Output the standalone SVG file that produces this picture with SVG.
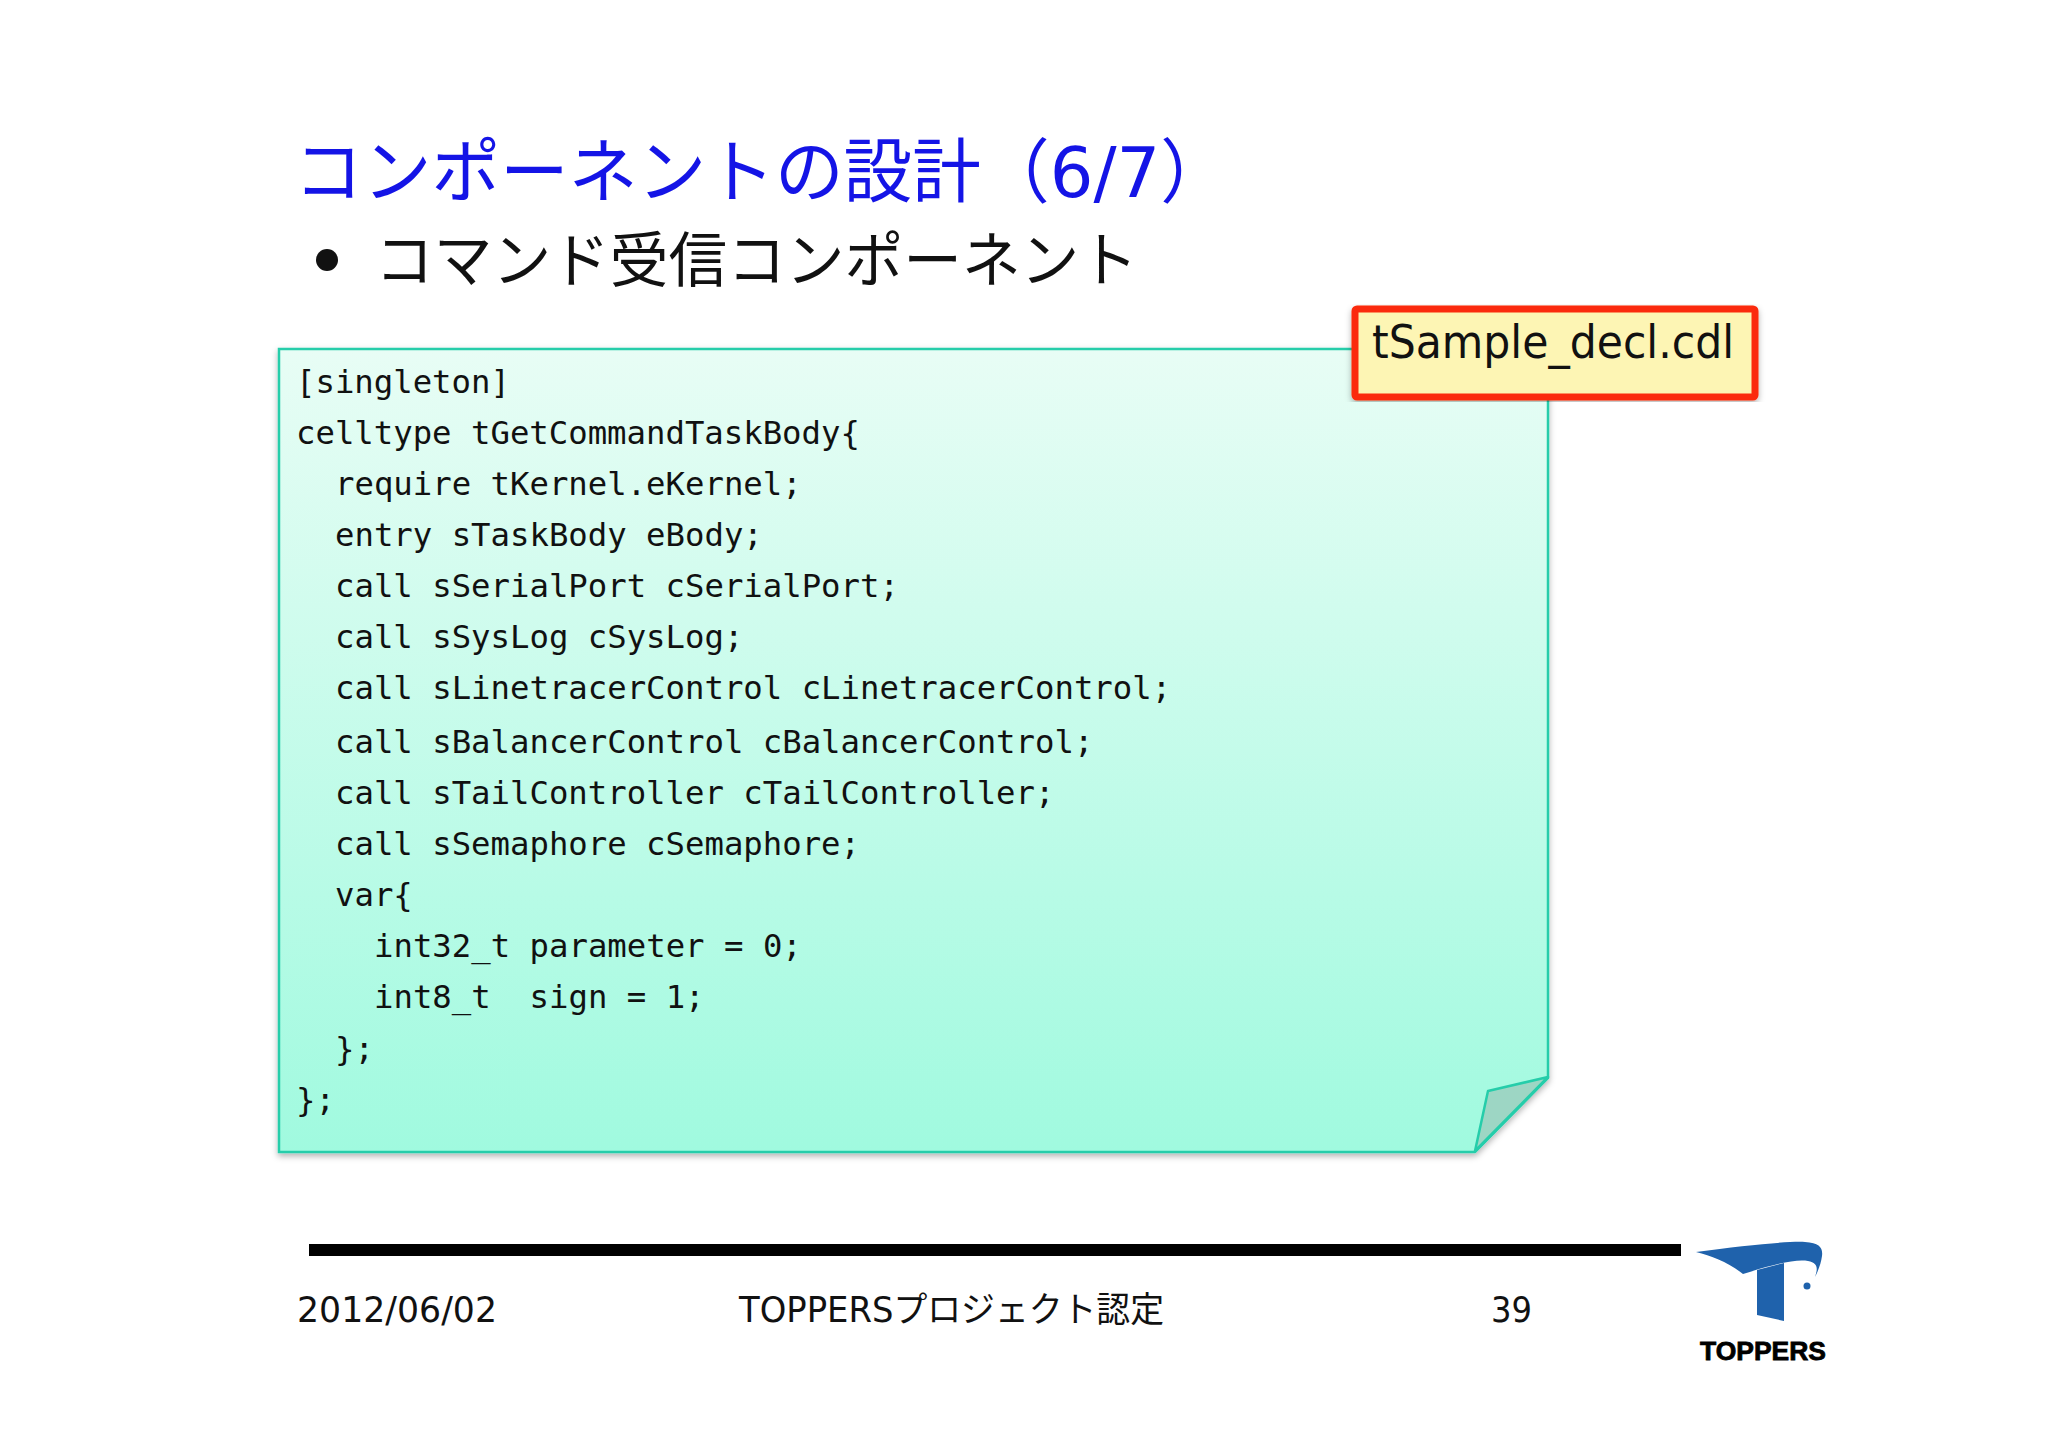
<svg xmlns="http://www.w3.org/2000/svg" width="2048" height="1447" viewBox="0 0 2048 1447">
<style>
.s{font-family:"DejaVu Sans","Noto Sans CJK JP",sans-serif}
.c{font-family:"DejaVu Sans Mono",monospace;font-size:32.3px;fill:#111;white-space:pre}
.f{font-size:35px;fill:#111}
</style>
<defs>
<linearGradient id="g" x1="0" y1="0" x2="0" y2="1"><stop offset="0" stop-color="#e8fdf5"/><stop offset="1" stop-color="#a0fadf"/></linearGradient>
<filter id="sh" x="-5%" y="-5%" width="110%" height="110%"><feDropShadow dx="0" dy="3" stdDeviation="3" flood-color="#000" flood-opacity="0.3"/></filter>
</defs>
<rect width="2048" height="1447" fill="#fff"/>
<text id="title" class="s" x="294" y="197" font-size="70" fill="#1414e6" textLength="935" lengthAdjust="spacingAndGlyphs">コンポーネントの設計（6/7）</text>
<g id="bullet"><circle cx="327" cy="260" r="11" fill="#111"/>
<text class="s" x="375" y="282" font-size="60" fill="#111" textLength="763" lengthAdjust="spacingAndGlyphs">コマンド受信コンポーネント</text></g>
<g id="note">
<path d="M279 349H1548V1078L1475 1152H279Z" fill="url(#g)" stroke="#25cdaa" stroke-width="2.5" filter="url(#sh)"/>
<path d="M1548 1077L1488 1091L1475 1151Z" fill="#9dd6c4" stroke="#25cdaa" stroke-width="2.5" stroke-linejoin="round"/>
<text class="c" x="296" y="393">[singleton]</text>
<text class="c" x="296" y="444">celltype tGetCommandTaskBody{</text>
<text class="c" x="335" y="495">require tKernel.eKernel;</text>
<text class="c" x="335" y="546">entry sTaskBody eBody;</text>
<text class="c" x="335" y="597">call sSerialPort cSerialPort;</text>
<text class="c" x="335" y="648">call sSysLog cSysLog;</text>
<text class="c" x="335" y="699">call sLinetracerControl cLinetracerControl;</text>
<text class="c" x="335" y="753">call sBalancerControl cBalancerControl;</text>
<text class="c" x="335" y="804">call sTailController cTailController;</text>
<text class="c" x="335" y="855">call sSemaphore cSemaphore;</text>
<text class="c" x="335" y="906">var{</text>
<text class="c" x="374" y="957">int32_t parameter = 0;</text>
<text class="c" x="374" y="1008">int8_t  sign = 1;</text>
<text class="c" x="335" y="1060">};</text>
<text class="c" x="296" y="1111">};</text>
</g>
<g id="file">
<rect x="1355" y="309" width="400" height="88" rx="2" fill="#fdf5b4" stroke="#fb2c0a" stroke-width="7" stroke-linejoin="round" filter="url(#sh)"/>
<text class="s" x="1372" y="358" font-size="46" fill="#111" textLength="362" lengthAdjust="spacingAndGlyphs">tSample_decl.cdl</text>
</g>
<rect id="rule" x="309" y="1244" width="1372" height="12" fill="#000"/>
<g id="footer">
<text class="s f" x="297" y="1322" textLength="200" lengthAdjust="spacingAndGlyphs">2012/06/02</text>
<text class="s f" x="739" y="1322" textLength="425" lengthAdjust="spacingAndGlyphs">TOPPERSプロジェクト認定</text>
<text class="s f" x="1491" y="1322" textLength="41" lengthAdjust="spacingAndGlyphs">39</text>
</g>
<g id="logo">
<path d="M1696 1252C1745 1245 1790 1241 1805 1242C1820 1243 1823 1248 1822 1256C1821 1263 1819 1269 1815 1277C1818 1268 1818 1263 1808 1261C1795 1259 1775 1264 1743 1274C1728 1262 1712 1256 1696 1252Z" fill="#1f62ac"/>
<path d="M1757 1270L1784 1263V1321L1757 1315Z" fill="#1f62ac"/>
<circle cx="1807" cy="1286" r="3.5" fill="#1f62ac"/>
<text x="1763" y="1360" text-anchor="middle" font-family="Liberation Sans,sans-serif" font-weight="bold" font-size="26" stroke="#000" stroke-width="0.8" fill="#000" textLength="126" lengthAdjust="spacingAndGlyphs">TOPPERS</text>
</g>
</svg>
